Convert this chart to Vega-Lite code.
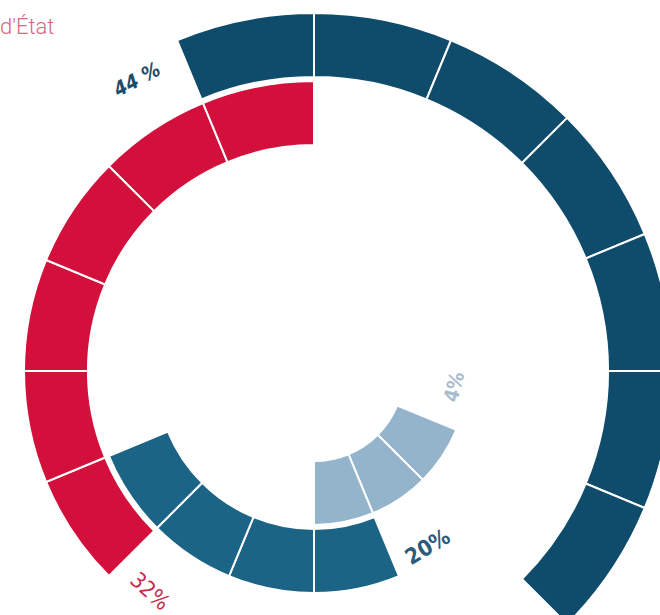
{
  "$schema": "https://vega.github.io/schema/vega-lite/v6.json",
  "autosize": "none",
  "padding": {"left": 0, "top": 127, "right": 32, "bottom": 0},
  "width": 628,
  "height": 488,
  "background": "white",
  "config": {"view": {"stroke": null}},
  "title": {"text": "d'État", "anchor": "start", "offset": -30, "font": "Roboto", "fontSize": 22, "fontWeight": 300, "color": "#d8687f", "frame": "group"},
  "datasets": {
    "segments": [
      {"ring": "outer", "a0": -1, "a1": 0, "r0": 3.06, "r1": 4},
      {"ring": "outer", "a0": 0, "a1": 1, "r0": 3.06, "r1": 4},
      {"ring": "outer", "a0": 1, "a1": 2, "r0": 3.06, "r1": 4},
      {"ring": "outer", "a0": 2, "a1": 3, "r0": 3.06, "r1": 4},
      {"ring": "outer", "a0": 3, "a1": 4, "r0": 3.06, "r1": 4},
      {"ring": "outer", "a0": 4, "a1": 5, "r0": 3.06, "r1": 4},
      {"ring": "outer", "a0": 5, "a1": 6, "r0": 3.06, "r1": 4},
      {"ring": "red", "a0": -6, "a1": -5, "r0": 2.06, "r1": 3},
      {"ring": "red", "a0": -5, "a1": -4, "r0": 2.06, "r1": 3},
      {"ring": "red", "a0": -4, "a1": -3, "r0": 2.06, "r1": 3},
      {"ring": "red", "a0": -3, "a1": -2, "r0": 2.06, "r1": 3},
      {"ring": "red", "a0": -2, "a1": -1, "r0": 2.06, "r1": 3},
      {"ring": "red", "a0": -1, "a1": 0, "r0": 2.06, "r1": 3},
      {"ring": "middle", "a0": 7, "a1": 8, "r0": 1.06, "r1": 2},
      {"ring": "middle", "a0": 8, "a1": 9, "r0": 1.06, "r1": 2},
      {"ring": "middle", "a0": 9, "a1": 10, "r0": 1.06, "r1": 2},
      {"ring": "middle", "a0": 10, "a1": 11, "r0": 1.06, "r1": 2},
      {"ring": "light", "a0": 5, "a1": 6, "r0": 0.06, "r1": 1},
      {"ring": "light", "a0": 6, "a1": 7, "r0": 0.06, "r1": 1},
      {"ring": "light", "a0": 7, "a1": 8, "r0": 0.06, "r1": 1}
    ],
    "labels": [
      {"label": "44 %", "ring": "outer", "a": -1.39, "r": 3.74},
      {"label": "32%", "ring": "red", "a": -6.37, "r": 2.78},
      {"label": "20%", "ring": "middle", "a": 6.54, "r": 1.82},
      {"label": "4%", "ring": "light", "a": 4.29, "r": 0.82}
    ]
  },
  "layer": [
    {
      "data": {"name": "segments"},
      "mark": {"type": "arc", "stroke": "white", "strokeWidth": 2},
      "encoding": {
        "theta": {"field": "a0", "type": "quantitative", "stack": null, "scale": {"domain": [0, 16], "range": [0, 6.283185307179586]}},
        "theta2": {"field": "a1"},
        "radius": {"field": "r1", "type": "quantitative", "stack": null, "scale": {"type": "linear", "zero": false, "domain": [0, 4], "range": [86, 358]}},
        "radius2": {"field": "r0"},
        "color": {"field": "ring", "type": "nominal", "legend": null, "scale": {"domain": ["outer", "red", "middle", "light"], "range": ["#0f4b6b", "#d3103b", "#1b6485", "#93b4cb"]}}
      }
    },
    {
      "data": {"name": "labels"},
      "transform": [{"filter": "datum.ring == 'outer'"}],
      "mark": {"type": "text", "angle": 332, "font": "DejaVu Sans Condensed", "fontSize": 20, "fontWeight": "bold", "fontStyle": "italic", "color": "#1e4d6c"},
      "encoding": {
        "theta": {"field": "a", "type": "quantitative", "stack": null},
        "radius": {"field": "r", "type": "quantitative", "stack": null},
        "text": {"field": "label"}
      }
    },
    {
      "data": {"name": "labels"},
      "transform": [{"filter": "datum.ring == 'red'"}],
      "mark": {"type": "text", "angle": 42, "font": "DejaVu Sans Condensed", "fontSize": 22, "color": "#c8294d"},
      "encoding": {
        "theta": {"field": "a", "type": "quantitative", "stack": null},
        "radius": {"field": "r", "type": "quantitative", "stack": null},
        "text": {"field": "label"}
      }
    },
    {
      "data": {"name": "labels"},
      "transform": [{"filter": "datum.ring == 'middle'"}],
      "mark": {"type": "text", "angle": 329, "font": "DejaVu Sans Condensed", "fontSize": 22, "fontWeight": "bold", "color": "#2b5b7b"},
      "encoding": {
        "theta": {"field": "a", "type": "quantitative", "stack": null},
        "radius": {"field": "r", "type": "quantitative", "stack": null},
        "text": {"field": "label"}
      }
    },
    {
      "data": {"name": "labels"},
      "transform": [{"filter": "datum.ring == 'light'"}],
      "mark": {"type": "text", "angle": 284, "font": "DejaVu Sans Condensed", "fontSize": 20, "fontWeight": "bold", "color": "#a9bccb"},
      "encoding": {
        "theta": {"field": "a", "type": "quantitative", "stack": null},
        "radius": {"field": "r", "type": "quantitative", "stack": null},
        "text": {"field": "label"}
      }
    }
  ]
}
